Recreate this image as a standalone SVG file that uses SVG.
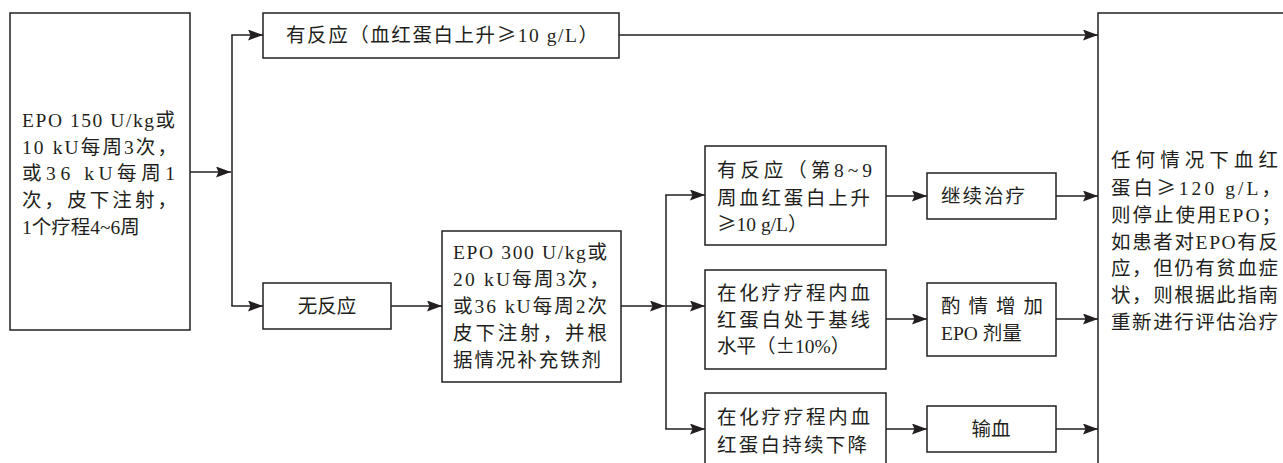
<svg xmlns="http://www.w3.org/2000/svg" width="1283" height="463" viewBox="0 0 1283 463">
<style>
.box{fill:#fff;stroke:#231f20;stroke-width:1.5}
.t{font-family:"Liberation Serif","Noto Sans CJK SC",serif;font-size:19.5px;fill:#231f20}
.k{font-family:"Noto Sans CJK SC",sans-serif}
.c{fill:none;stroke:#231f20;stroke-width:1.5}
</style>
<defs>
<marker id="ah" markerWidth="15" markerHeight="11" refX="15" refY="5.5" orient="auto" markerUnits="userSpaceOnUse">
<path d="M0,0 L15,5.5 L0,11 L2.5,5.5 z" fill="#231f20"/>
</marker>
</defs>
<rect width="1283" height="463" fill="#fff"/>
<g id="connectors">
<line class="c" x1="190" y1="172" x2="231" y2="172" marker-end="url(#ah)"/>
<line class="c" x1="232" y1="35" x2="232" y2="306"/>
<line class="c" x1="231.25" y1="35" x2="263" y2="35" marker-end="url(#ah)"/>
<line class="c" x1="231.25" y1="306" x2="263" y2="306" marker-end="url(#ah)"/>
<line class="c" x1="619" y1="35" x2="1098" y2="35" marker-end="url(#ah)"/>
<line class="c" x1="391" y1="306" x2="442" y2="306" marker-end="url(#ah)"/>
<line class="c" x1="621" y1="306" x2="665" y2="306" marker-end="url(#ah)"/>
<line class="c" x1="666" y1="195" x2="666" y2="429"/>
<line class="c" x1="665.25" y1="195" x2="705" y2="195" marker-end="url(#ah)"/>
<line class="c" x1="666" y1="306" x2="705" y2="306" marker-end="url(#ah)"/>
<line class="c" x1="665.25" y1="429" x2="705" y2="429" marker-end="url(#ah)"/>
<line class="c" x1="886" y1="196" x2="927" y2="196" marker-end="url(#ah)"/>
<line class="c" x1="886" y1="319" x2="927" y2="319" marker-end="url(#ah)"/>
<line class="c" x1="886" y1="429" x2="927" y2="429" marker-end="url(#ah)"/>
<line class="c" x1="1056" y1="196" x2="1098" y2="196" marker-end="url(#ah)"/>
<line class="c" x1="1056" y1="319" x2="1098" y2="319" marker-end="url(#ah)"/>
<line class="c" x1="1056" y1="429" x2="1098" y2="429" marker-end="url(#ah)"/>
</g>
<g id="start">
<rect class="box" x="10" y="13" width="180" height="317"/>
<text class="t" x="22" y="127" textLength="153" lengthAdjust="spacing">EPO 150 U/kg或</text>
<text class="t" x="22" y="154" textLength="155" lengthAdjust="spacing">10 kU每周3次，</text>
<text class="t" x="22" y="180" textLength="153" lengthAdjust="spacing">或36 kU每周1</text>
<text class="t" x="22" y="207" textLength="155" lengthAdjust="spacing">次，皮下注射，</text>
<text class="t" x="22" y="234">1个疗程4~6周</text>
</g>
<g id="response">
<rect class="box" x="263" y="13" width="356" height="45"/>
<text class="t" x="286" y="42" textLength="312" lengthAdjust="spacing">有反应（血红蛋白上升<tspan class="k">≥</tspan>10 g/L）</text>
</g>
<g id="noresponse">
<rect class="box" x="263" y="283" width="128" height="46"/>
<text class="t" x="327" y="313" text-anchor="middle">无反应</text>
</g>
<g id="epo300">
<rect class="box" x="442" y="231" width="179" height="151"/>
<text class="t" x="453" y="259" textLength="154" lengthAdjust="spacing">EPO 300 U/kg或</text>
<text class="t" x="453" y="286" textLength="156" lengthAdjust="spacing">20 kU每周3次，</text>
<text class="t" x="453" y="313" textLength="154" lengthAdjust="spacing">或36 kU每周2次</text>
<text class="t" x="453" y="340" textLength="154" lengthAdjust="spacing">皮下注射，并根</text>
<text class="t" x="453" y="367" textLength="148" lengthAdjust="spacing">据情况补充铁剂</text>
</g>
<g id="resp2">
<rect class="box" x="705" y="146" width="181" height="99"/>
<text class="t" x="717" y="177" textLength="155" lengthAdjust="spacing">有反应（第8~9</text>
<text class="t" x="717" y="205" textLength="153" lengthAdjust="spacing">周血红蛋白上升</text>
<text class="t" x="717" y="231"><tspan class="k">≥</tspan>10 g/L）</text>
</g>
<g id="baseline">
<rect class="box" x="705" y="270" width="181" height="99"/>
<text class="t" x="717" y="300" textLength="153" lengthAdjust="spacing">在化疗疗程内血</text>
<text class="t" x="717" y="327" textLength="153" lengthAdjust="spacing">红蛋白处于基线</text>
<text class="t" x="717" y="353">水平（<tspan class="k">±</tspan>10%）</text>
</g>
<g id="decline">
<rect class="box" x="705" y="393" width="181" height="80"/>
<text class="t" x="717" y="424" textLength="153" lengthAdjust="spacing">在化疗疗程内血</text>
<text class="t" x="717" y="452" textLength="150" lengthAdjust="spacing">红蛋白持续下降</text>
</g>
<g id="continue">
<rect class="box" x="927" y="173" width="129" height="46"/>
<text class="t" x="941" y="203" textLength="84" lengthAdjust="spacing">继续治疗</text>
</g>
<g id="increase">
<rect class="box" x="927" y="283" width="129" height="73"/>
<text class="t" x="941" y="313" textLength="102" lengthAdjust="spacing">酌情增加</text>
<text class="t" x="941" y="340">EPO 剂量</text>
</g>
<g id="transfusion">
<rect class="box" x="927" y="406" width="129" height="46"/>
<text class="t" x="991" y="436" text-anchor="middle">输血</text>
</g>
<g id="final">
<rect class="box" x="1098" y="13" width="200" height="470"/>
<text class="t" x="1111" y="167" textLength="167" lengthAdjust="spacing">任何情况下血红</text>
<text class="t" x="1111" y="195" textLength="170" lengthAdjust="spacing">蛋白<tspan class="k">≥</tspan>120 g/L，</text>
<text class="t" x="1111" y="222" textLength="170" lengthAdjust="spacing">则停止使用EPO；</text>
<text class="t" x="1111" y="249" textLength="167" lengthAdjust="spacing">如患者对EPO有反</text>
<text class="t" x="1111" y="275" textLength="167" lengthAdjust="spacing">应，但仍有贫血症</text>
<text class="t" x="1111" y="302" textLength="167" lengthAdjust="spacing">状，则根据此指南</text>
<text class="t" x="1111" y="329" textLength="167" lengthAdjust="spacing">重新进行评估治疗</text>
</g>
</svg>
